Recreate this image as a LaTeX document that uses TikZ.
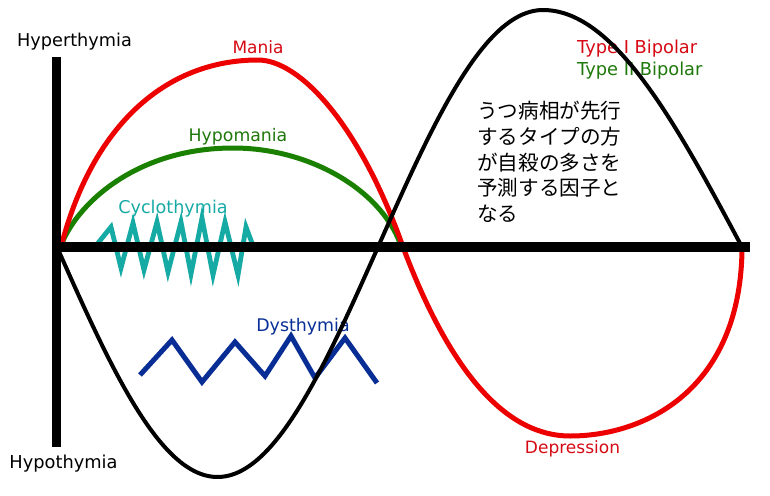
\documentclass[tikz,border=0pt]{standalone}
\usepackage{fontspec}
\setmainfont{DejaVu Sans}
\newfontfamily\jpfont{Noto Sans CJK JP}
\definecolor{mred}{RGB}{236,0,0}
\definecolor{mredtxt}{RGB}{214,10,20}
\definecolor{mgreen}{RGB}{26,128,0}
\definecolor{mgreentxt}{RGB}{30,120,10}
\definecolor{mteal}{RGB}{22,170,165}
\definecolor{mblue}{RGB}{8,46,150}
\begin{document}
\begin{tikzpicture}[x=1pt,y=-1pt,
  lbl/.style={font=\fontsize{#1}{20}\selectfont, inner sep=0pt, anchor=base},
  lbl/.default=17,
  typelbl/.style={font=\fontsize{17.8}{20}\selectfont, inner sep=0pt, anchor=base west},
  jp/.style={font=\jpfont\fontsize{20.6}{24}\selectfont, inner sep=0pt, anchor=base west},
  curve/.style={line width=5pt, line cap=round, line join=round},
  zig/.style={line width=4.8pt, line cap=butt, line join=miter, miter limit=10},
  axis/.style={fill=black}]
\useasboundingbox (0,0) rectangle (770,495);
\fill[white] (0,0) rectangle (770,495);

% labels
\node[lbl=17.7] (hyper) at (74.5,46) {Hyperthymia};
\node[lbl=17.8] (hypo) at (63.5,468) {Hypothymia};
\node[lbl, text=mredtxt] (mania) at (258,53) {Mania};
\node[lbl=17.3, text=mgreentxt] (hypomania) at (238,141) {Hypomania};
\node[lbl=17.6, text=mteal] (cyclo) at (173,213) {Cyclothymia};
\node[lbl=17.4, text=mblue] (dys) at (303,331) {Dysthymia};
\node[lbl, text=mredtxt] (dep) at (572.5,453) {Depression};
\node[typelbl, text=mredtxt] (type1) at (577,53) {Type I Bipolar};
\node[typelbl, text=mgreentxt] (type2) at (577,75) {Type II Bipolar};

\node[jp] (jp1) at (477,118) {うつ病相が先行};
\node[jp] (jp2) at (477,144) {するタイプの方};
\node[jp] (jp3) at (477,170) {が自殺の多さを};
\node[jp] (jp4) at (477,195.5) {予測する因子と};
\node[jp] (jp5) at (477,221) {なる};

% cyclothymia zigzag
\draw[zig, mteal] (98,243) -- (111,227) -- (121,268) -- (133,223) -- (144,270)
  -- (157,222) -- (168,272) -- (181,222) -- (191,274) -- (202,218) -- (213,275)
  -- (225,222) -- (238,275) -- (246,227) -- (252,243);

% dysthymia zigzag
\draw[zig, mblue, line width=5pt] (140,375) -- (172,340) -- (202,382) -- (235,342)
  -- (265,376) -- (291,336) -- (315,378) -- (345,338) -- (377,383);

% hypomania (green)
\draw[curve, mgreen] (62,243) .. controls (80,200) and (140,148) .. (233,148)
  .. controls (310,148) and (380,190) .. (400,243);

% mania / depression (red)
\draw[curve, mred] (62,243) .. controls (95,120) and (170,60) .. (258,60)
  .. controls (300,60) and (360,125) .. (403,247)
  .. controls (453,380) and (510,436) .. (570,436)
  .. controls (645,436) and (740,390) .. (742,250);

% black sinusoid
\draw[line width=4pt, line join=round, black]
  plot[domain=57:378, samples=90, smooth] (\x, {247+230*sin(0.56075*(\x-57))})
  -- plot[domain=378:543, samples=50, smooth] (\x, {247-237*sin(0.54545*(\x-378))})
  -- plot[domain=543:742, samples=60, smooth] (\x, {247-237*cos(0.45226*(\x-543))});

% axes
\fill[axis] (51.5,57) rectangle (61,447);
\fill[axis] (56,242) rectangle (750,252);
\end{tikzpicture}
\end{document}
